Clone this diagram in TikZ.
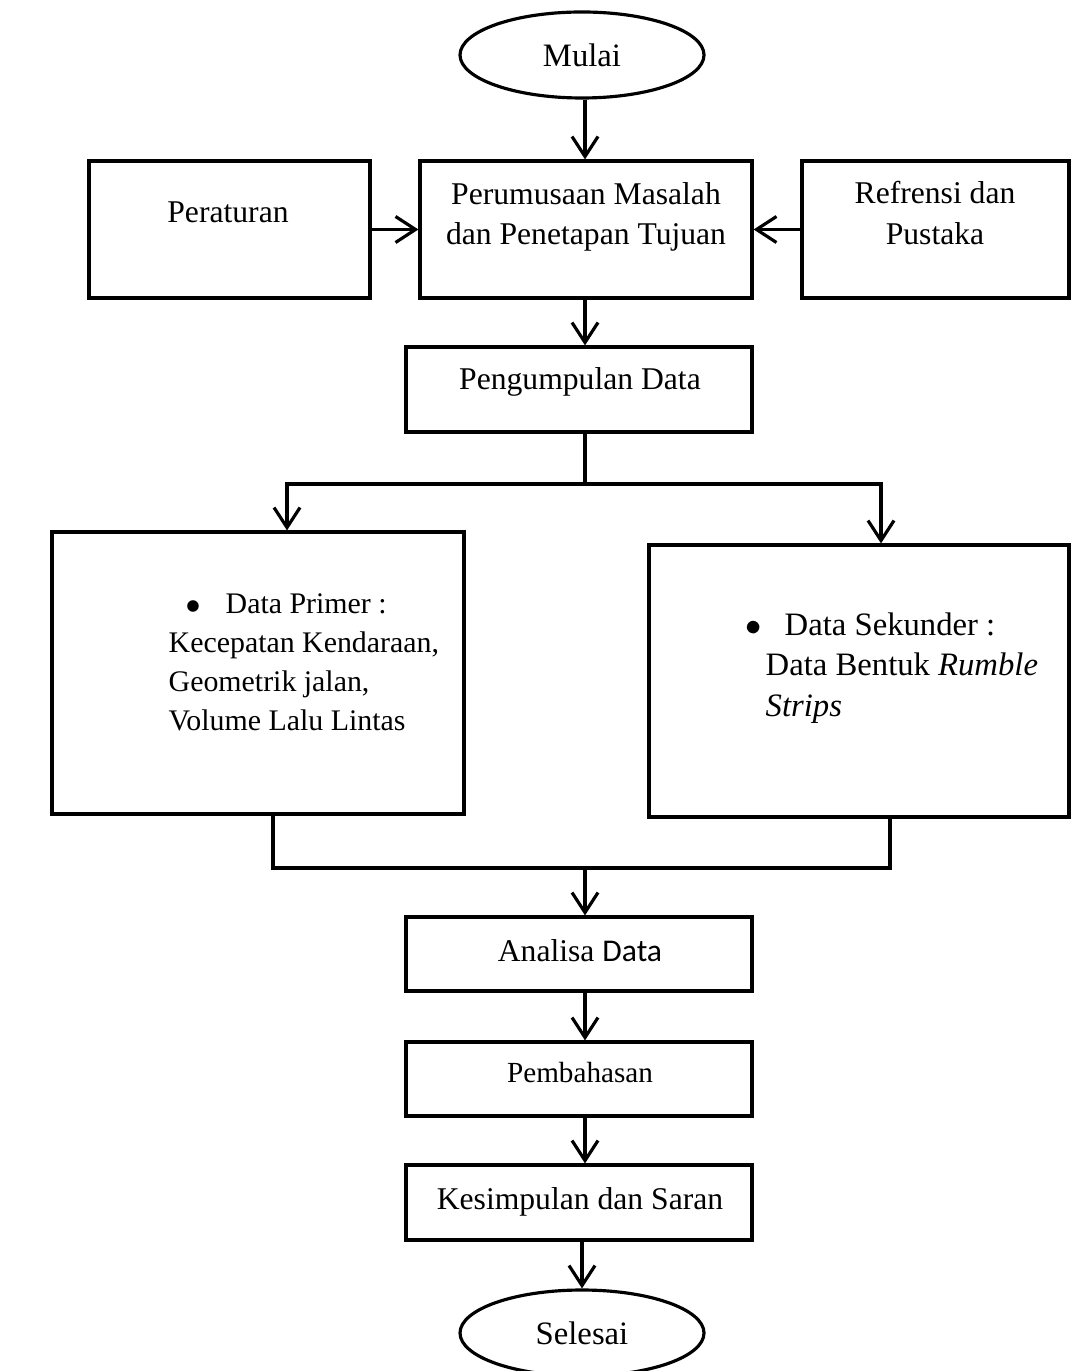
\documentclass[tikz,border=0pt]{standalone}
\usepackage{fontspec}
\setmainfont{Liberation Serif}
\newfontfamily\calibri{Carlito}
\usetikzlibrary{arrows.meta,shapes.geometric}

\begin{document}
\begin{tikzpicture}[x=0.1mm,y=-0.1mm,
  box/.style={draw, line width=0.9pt, inner sep=0pt},
  oval/.style={draw, ellipse, line width=0.9pt, inner sep=0pt, minimum width=24.4mm, minimum height=8.6mm, font=\fontsize{9.3}{11}\selectfont},
  line/.style={line width=0.9pt},
  arr/.style={line width=0.9pt, -{Straight Barb[length=2mm,width=2.6mm,line width=0.9pt]}},
  txt/.style={inner sep=0pt, align=center, font=\fontsize{9}{11.6}\selectfont}]
\useasboundingbox (0,0) rectangle (1071,1371);
% boxes
\node[oval] (mulai) at (582,55) {\raisebox{-0.5mm}{Mulai}};
\node[box, minimum width=28.1mm, minimum height=13.7mm] (atur) at (229.5,229.5) {};
\node[box, minimum width=33.2mm, minimum height=13.7mm] (rumus) at (586,229.5) {};
\node[box, minimum width=26.7mm, minimum height=13.7mm] (refr) at (935.5,229.5) {};
\node[box, minimum width=34.6mm, minimum height=8.5mm] (kumpul) at (579,389.5) {};
\node[box, minimum width=41.2mm, minimum height=28.2mm] (primer) at (258,673) {};
\node[box, minimum width=42mm, minimum height=27.2mm] (sekunder) at (859,681) {};
\node[box, minimum width=34.6mm, minimum height=7.4mm] (analisa) at (579,954) {};
\node[box, minimum width=34.6mm, minimum height=7.4mm] (bahas) at (579,1079) {};
\node[box, minimum width=34.6mm, minimum height=7.5mm] (simpul) at (579,1202.5) {};
\node[oval] (selesai) at (582,1333) {\raisebox{-0.2mm}{Selesai}};
% texts
\node[txt] (atur-t) at (228,212) {Peraturan};
\node[txt] (rumus-t) at (586,217) {Perumusaan Masalah\\dan Penetapan Tujuan};
\node[txt] (refr-t) at (935,213) {Refrensi dan\\Pustaka};
\node[txt] (kumpul-t) at (580,382) {Pengumpulan Data};
\node[txt, align=left, anchor=west, font=\fontsize{8.5}{11.1}\selectfont] (primer-t) at (168,662)
  {\makebox[5.7mm][l]{\hspace{1.7mm}$\bullet$}Data Primer :\\Kecepatan Kendaraan,\\Geometrik jalan,\\Volume Lalu Lintas};
\node[txt, align=left, anchor=west, font=\fontsize{9.3}{11.6}\selectfont] (sekunder-t) at (745,668)
  {\makebox[3.9mm][l]{$\bullet$}Data Sekunder :\\\hspace*{2mm}Data Bentuk \textit{Rumble}\\\hspace*{2mm}\textit{Strips}};
\node[txt] (analisa-t) at (580,951) {Analisa {\calibri Data}};
\node[txt, font=\fontsize{8.3}{10}\selectfont] (bahas-t) at (580,1073) {Pembahasan};
\node[txt] (simpul-t) at (580,1202) {Kesimpulan dan Saran};
% connectors
\coordinate (cab) at (585,484);
\coordinate (cabkiri) at (287,484);
\coordinate (cabkanan) at (881,484);
\coordinate (gab) at (585,868);
\coordinate (gabkiri) at (273,868);
\coordinate (gabkanan) at (890,868);
\draw[arr] (mulai.south -| cab) -- (cab |- rumus.north);
\draw[arr] (atur.east) -- (rumus.west);
\draw[arr] (refr.west) -- (rumus.east);
\draw[arr] (cab |- rumus.south) -- (cab |- kumpul.north);
\draw[line] (cab |- kumpul.south) -- (cab);
\draw[arr] (cab) -- (cabkiri) -- (cabkiri |- primer.north);
\draw[arr] (cab) -- (cabkanan) -- (cabkanan |- sekunder.north);
\draw[line] (gabkiri |- primer.south) -- (gabkiri) -- (gabkanan) -- (gabkanan |- sekunder.south);
\draw[arr] (gab) -- (gab |- analisa.north);
\draw[arr] (gab |- analisa.south) -- (gab |- bahas.north);
\draw[arr] (gab |- bahas.south) -- (gab |- simpul.north);
\draw[arr] (mulai.south |- simpul.south) -- (selesai.north);
\end{tikzpicture}
\end{document}
